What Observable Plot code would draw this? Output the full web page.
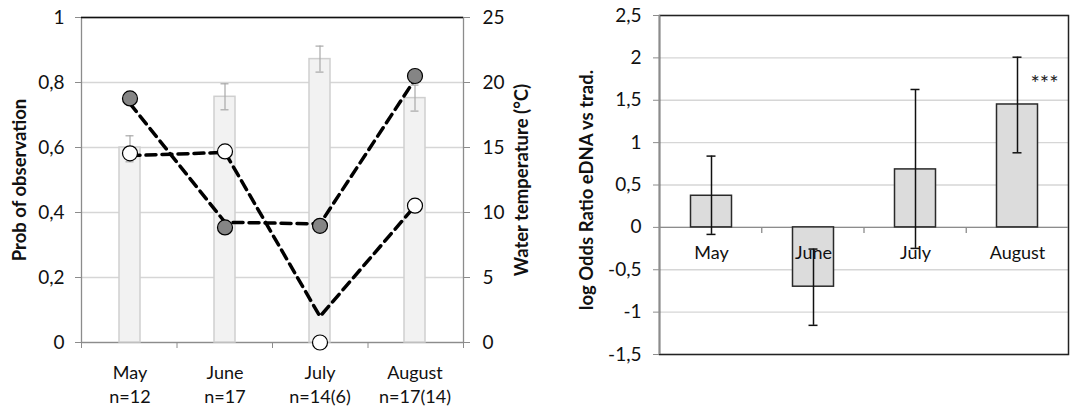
<!DOCTYPE html>
<html><head><meta charset="utf-8">
<script src="https://cdn.jsdelivr.net/npm/d3@7"></script>
<script src="https://cdn.jsdelivr.net/npm/@observablehq/plot@0.6"></script>
<style>
body{margin:0;background:#fff;}
#wrap{position:relative;width:1072px;height:406px;overflow:hidden;}
#wrap svg{position:absolute;top:0;}
</style></head><body><div id="wrap"></div>
<script>
// ---- data ----
const months = ["May", "June", "July", "August"];
const nLabels = ["n=12", "n=17", "n=14(6)", "n=17(14)"];
const waterTemp = [15.0, 18.9, 21.8, 18.8];
const tempLow = [13.9, 17.9, 20.8, 17.8];
const tempHigh = [15.9, 19.9, 22.8, 19.8];
const ednaObs = [0.751, 0.354, 0.359, 0.820];
const tradObs = [0.582, 0.588, 0.0, 0.421];
const ednaLine = [0.735, 0.370, 0.365, 0.810];
const tradLine = [0.575, 0.585, 0.080, 0.420];
const probTicks = [0, 0.2, 0.4, 0.6, 0.8, 1];
const tempTicks = [0, 5, 10, 15, 20, 25];
const oddsRatio = [0.373, -0.70, 0.684, 1.45];
const orLow = [-0.083, -1.156, -0.248, 0.880];
const orHigh = [0.841, -0.256, 1.627, 2.008];
const sig = ["", "", "", "***"];
const orTicks = [-1.5, -1, -0.5, 0, 0.5, 1, 1.5, 2, 2.5];

// ---- tables ----
const rows = months.map((m, i) => ({month: m, n: nLabels[i], temp: waterTemp[i], tlo: tempLow[i], thi: tempHigh[i],
  ednaObs: ednaObs[i], tradObs: tradObs[i], ednaLine: ednaLine[i], tradLine: tradLine[i]}));
const orRows = months.map((m, i) => ({month: m, or: oddsRatio[i], lo: orLow[i], hi: orHigh[i], sig: sig[i]}));

const comma = d => String(d).replace(".", ",");
const FONT = "Lato, 'Open Sans', sans-serif";
const style = {background: "transparent", fontFamily: FONT, fontSize: "18px", color: "#111", overflow: "visible"};
const GRAY = "#8c8c8c", GRID = "#d6d6d6";
const TICKFS = 19;
const TITLE = {rotate: -90, textAnchor: "middle", fontWeight: "bold", fontSize: 18.5, fill: "#111"};
const L = {width: 540, height: 406, marginLeft: 81, marginRight: 77, marginTop: 17, marginBottom: 64};
const R = {width: 532, height: 406, marginLeft: 119, marginRight: 4, marginTop: 15, marginBottom: 52};

const wrap = document.getElementById("wrap");
function add(svg, left) { svg.style.left = left + "px"; wrap.appendChild(svg); }

// Left: axes layer (temperature scale)
add(Plot.plot({...L, style,
  x: {type: "linear", domain: [0, months.length]},
  y: {domain: [0, 25]},
  marks: [
    Plot.gridY(tempTicks, {stroke: GRID, strokeOpacity: 1, strokeWidth: 1.3}),
    Plot.frame({stroke: GRAY, strokeWidth: 1.3}),
    Plot.ruleY([25], {stroke: "#111", strokeWidth: 1.3}),
    Plot.axisX(d3.range(0, months.length + 1), {tickFormat: () => "", tickSize: 6, stroke: GRAY, label: null}),
    Plot.axisY(tempTicks, {anchor: "right", tickSize: 6, tickPadding: 13, stroke: GRAY, fill: "#111", label: null, fontSize: TICKFS}),
    Plot.text(["Water temperature (°C)"], {...TITLE, frameAnchor: "right", dx: 59})
  ]}), 0);

// Left: temperature bars
add(Plot.plot({...L, style,
  x: {type: "band", domain: months, padding: 0, axis: null},
  y: {domain: [0, 25], axis: null},
  marks: [
    Plot.barY(rows, {x: "month", y: "temp", fill: "#f2f2f2", stroke: "#cfcfcf", strokeWidth: 1.5, insetLeft: 37, insetRight: 37}),
    Plot.ruleX(rows, {x: "month", y1: "tlo", y2: "thi", stroke: "#a8a8a8", strokeWidth: 1.2}),
    Plot.tickY(rows, {x: "month", y: "tlo", stroke: "#a8a8a8", strokeWidth: 1.2, inset: 43.5}),
    Plot.tickY(rows, {x: "month", y: "thi", stroke: "#a8a8a8", strokeWidth: 1.2, inset: 43.5}),
    Plot.text(rows, {x: "month", text: d => d.month + "\n" + d.n, frameAnchor: "bottom", lineAnchor: "top", dy: 20, lineHeight: 1.3, fill: "#111", fontSize: 18})
  ]}), 0);

// Left: probability layer
add(Plot.plot({...L, style,
  x: {type: "band", domain: months, padding: 0, axis: null},
  y: {domain: [0, 1], axis: null},
  marks: [
    Plot.axisY(probTicks, {anchor: "left", tickSize: 6, tickPadding: 11, stroke: GRAY, fill: "#111", tickFormat: comma, label: null, fontSize: TICKFS}),
    Plot.text(["Prob of observation"], {...TITLE, frameAnchor: "left", dx: -61}),
    Plot.line(rows, {x: "month", y: "ednaLine", stroke: "#000", strokeWidth: 3.5, strokeDasharray: "10,6"}),
    Plot.line(rows, {x: "month", y: "tradLine", stroke: "#000", strokeWidth: 3.5, strokeDasharray: "10,6"}),
    Plot.dot(rows, {x: "month", y: "ednaObs", r: 7.5, fill: "#858585", stroke: "#000", strokeWidth: 1.2}),
    Plot.dot(rows, {x: "month", y: "tradObs", r: 7.5, fill: "#fff", stroke: "#000", strokeWidth: 1.2})
  ]}), 0);

// Right: axes layer
add(Plot.plot({...R, style,
  x: {type: "linear", domain: [0, months.length], axis: null},
  y: {domain: [-1.5, 2.5], axis: null},
  marks: [
    Plot.gridY(orTicks, {stroke: GRID, strokeOpacity: 1, strokeWidth: 1.3}),
    Plot.frame({stroke: "#222", strokeWidth: 1.5}),
    Plot.ruleX([0], {stroke: GRAY, strokeWidth: 1.5}),
    Plot.ruleY([0], {stroke: GRAY, strokeWidth: 1.3}),
    Plot.ruleX(d3.range(1, months.length), {y1: 0, y2: 0, insetBottom: -6, stroke: GRAY, strokeWidth: 1.3})
  ]}), 540);

// Right: odds ratio bars
add(Plot.plot({...R, style,
  x: {type: "band", domain: months, padding: 0, axis: null},
  y: {domain: [-1.5, 2.5], axis: null},
  marks: [
    Plot.axisY(orTicks, {anchor: "left", tickSize: 6, tickPadding: 12, stroke: GRAY, fill: "#111", tickFormat: comma, label: null, fontSize: TICKFS}),
    Plot.text(["log Odds Ratio eDNA vs trad."], {...TITLE, frameAnchor: "left", dx: -72, dy: 5}),
    Plot.barY(orRows, {x: "month", y: "or", fill: "#dcdcdc", stroke: "#2a2a2a", strokeWidth: 1.5, insetLeft: 30.5, insetRight: 30.5}),
    Plot.text(orRows, {x: "month", y: 0, text: "month", lineAnchor: "top", dy: 19, fill: "#111", fontSize: 18}),
    Plot.ruleX(orRows, {x: "month", y1: "lo", y2: "hi", stroke: "#111", strokeWidth: 1.5}),
    Plot.tickY(orRows, {x: "month", y: "lo", stroke: "#111", strokeWidth: 1.5, inset: 46.5}),
    Plot.tickY(orRows, {x: "month", y: "hi", stroke: "#111", strokeWidth: 1.5, inset: 46.5}),
    Plot.text(orRows, {x: "month", y: "hi", text: "sig", dx: 27, dy: 27, fill: "#222", fontSize: 22})
  ]}), 540);
</script></body></html>
